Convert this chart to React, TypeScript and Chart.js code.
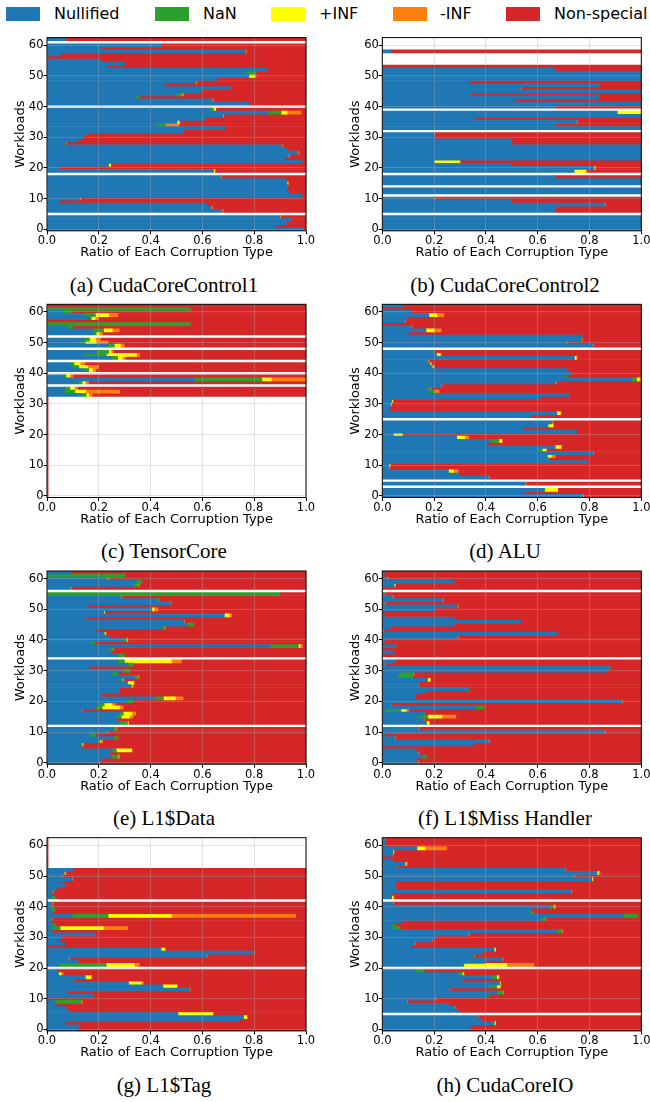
import React, { useEffect, useRef } from "react";
import { Chart, registerables } from "chart.js";

Chart.register(...registerables);
Chart.defaults.font.family = "'DejaVu Sans', sans-serif";
Chart.defaults.color = "#000";

const SERIES_NAMES = ["Nullified", "NaN", "+INF", "-INF", "Non-special"];
const SERIES_COLORS = ["#1f77b4", "#2ca02c", "#ffff00", "#ff7f0e", "#d62728"];
const X_TICKS = [0, 0.2, 0.4, 0.6, 0.8, 1.0];
const Y_TICKS = [0, 10, 20, 30, 40, 50, 60];
const X_TITLE = "Ratio of Each Corruption Type";
const Y_TITLE = "Workloads";

// ---------- (a) CudaCoreControl1 ----------
const A_NULL = [
  .99, .885, .923, .943, .898, 0, .676, .635, .618, .048,
  .126, .985, .937, .927, .929, .927, .924, .669, 0, .643,
  .048, .235, .985, .916, .933, .969, .927, .907, .071, .12,
  .139, .157, .528, .689, .422, .502, .611, .678, .853, .63,
  0, .783, .638, .344, .502, .597, .708, .453, .574, .656,
  .78, .766, .85, .23, .3, .206, 0, .054, .766, .212,
  .44, 0, .07];
const A_NAN = [
  0, 0, 0, 0, 0, 0, 0, 0, 0, 0,
  0, 0, 0, 0, 0, 0, 0, 0, 0, 0,
  0, .003, 0, 0, 0, 0, 0, 0, 0, 0,
  0, 0, 0, 0, .035, 0, 0, 0, .051, .013,
  0, 0, 0, .013, .017, 0, 0, 0, 0, 0,
  0, .038, 0, 0, 0, 0, 0, 0, 0, 0,
  0, 0, 0];
const A_PINF = [
  0, 0, 0, 0, 0, 0, 0, 0, 0, 0,
  0, 0, 0, 0, 0, .004, 0, 0, 0, .005,
  0, .008, 0, 0, 0, 0, 0, 0, 0, 0,
  0, 0, 0, 0, 0, .009, 0, 0, .023, .009,
  0, 0, 0, 0, 0, 0, 0, 0, 0, 0,
  .022, 0, 0, 0, 0, 0, 0, 0, 0, 0,
  0, 0, 0];
const A_NINF = [
  0, 0, 0, 0, .004, 0, .004, .004, 0, 0,
  .004, 0, 0, 0, 0, 0, 0, .004, 0, 0,
  0, 0, 0, 0, .004, .004, 0, .004, .004, 0,
  0, 0, 0, 0, .054, 0, 0, .004, .054, 0,
  0, 0, .004, 0, .008, 0, 0, 0, .004, 0,
  .005, 0, 0, 0, 0, 0, 0, 0, .004, 0,
  0, 0, 0];
const A_RED = [
  .01, .115, .077, .057, .098, 0, .32, .361, .382, .952,
  .87, .015, .063, .073, .071, .069, .076, .327, 0, .352,
  .952, .754, .015, .084, .063, .027, .073, .089, .925, .88,
  .861, .843, .472, .311, .489, .489, .389, .318, .019, .348,
  0, .217, .358, .643, .473, .403, .292, .547, .422, .344,
  .193, .196, .15, .77, .7, .794, 1, .946, .23, .788,
  .56, 0, .93];

// ---------- (b) CudaCoreControl2 ----------
const B_NULL = [
  1, 1, 1, 1, 1, 0, .668, .668, .858, .5,
  .2, 0, 1, 1, 0, 1, 1, .668, 0, .741,
  .818, .5, .2, 1, 1, 1, 1, 1, .5, .5,
  .2, .2, 0, 1, .668, .75, .356, 1, .907, 0,
  .668, 1, .51, .835, .335, 1, .533, .835, .335, 1,
  1, 1, .668, 0, 0, 0, 0, 0, .032, 0,
  0, 0, 0];
const B_NAN = [
  0, 0, 0, 0, 0, 0, 0, 0, 0, 0,
  0, 0, 0, 0, 0, 0, 0, 0, 0, 0,
  0, 0, 0, 0, 0, 0, 0, 0, 0, 0,
  0, 0, 0, 0, 0, 0, 0, 0, 0, 0,
  0, 0, 0, 0, 0, 0, 0, 0, 0, 0,
  0, 0, 0, 0, 0, 0, 0, 0, 0, 0,
  0, 0, 0];
const B_PINF = [
  0, 0, 0, 0, 0, 0, 0, 0, 0, 0,
  0, 0, 0, 0, 0, 0, 0, 0, 0, .046,
  .004, 0, .1, 0, 0, 0, 0, 0, 0, 0,
  0, 0, 0, 0, 0, 0, 0, 0, .093, 0,
  0, 0, 0, 0, 0, 0, 0, 0, 0, 0,
  0, 0, 0, 0, 0, 0, 0, 0, 0, 0,
  0, 0, 0];
const B_NINF = [
  0, 0, 0, 0, 0, 0, 0, 0, .003, 0,
  .003, 0, 0, 0, 0, 0, 0, 0, 0, 0,
  0, 0, 0, 0, 0, 0, 0, 0, 0, 0,
  0, .003, 0, 0, 0, .003, 0, 0, 0, 0,
  0, 0, 0, 0, 0, 0, .003, 0, 0, 0,
  0, 0, 0, 0, 0, 0, 0, 0, 0, 0,
  0, 0, 0];
const B_RED = [
  0, 0, 0, 0, 0, 0, .332, .332, .139, .5,
  .797, 0, 0, 0, 0, 0, 0, .332, 0, .213,
  .178, .5, .7, 0, 0, 0, 0, 0, .5, .5,
  .8, .797, 0, 0, .332, .247, .644, 0, 0, 0,
  .332, 0, .49, .165, .665, 0, .464, .165, .665, 0,
  0, 0, .332, 1, 0, 0, 0, 0, .968, 0,
  0, 0, 0];

// ---------- (c) TensorCore ----------
const C_NULL = [
  0, 0, 0, 0, 0, 0, 0, 0, 0, 0,
  0, 0, 0, 0, 0, 0, 0, 0, 0, 0,
  0, 0, 0, 0, 0, 0, 0, 0, 0, 0,
  0, 0, 0, .135, .066, .071, 0, .12, .569, .064,
  0, .144, .097, .09, 0, .249, .144, .19, 0, .234,
  .121, .142, 0, .18, .174, .075, 0, 0, .165, .142,
  .064, 0, 0];
const C_NAN = [
  0, 0, 0, 0, 0, 0, 0, 0, 0, 0,
  0, 0, 0, 0, 0, 0, 0, 0, 0, 0,
  0, 0, 0, 0, 0, 0, 0, 0, 0, 0,
  0, 0, 0, .017, .042, .017, 0, .015, .261, .01,
  0, .017, .026, .015, 0, .024, .085, .048, 0, .026,
  .027, .022, 0, .01, .045, .023, .553, 0, .006, .045,
  .026, .553, 0];
const C_PINF = [
  0, 0, 0, 0, 0, 0, 0, 0, 0, 0,
  0, 0, 0, 0, 0, 0, 0, 0, 0, 0,
  0, 0, 0, 0, 0, 0, 0, 0, 0, 0,
  0, 0, 0, .009, .042, .018, 0, .013, .036, .013,
  0, .015, .035, .023, 0, .018, .116, .009, 0, .023,
  .042, .023, 0, .012, .033, 0, 0, 0, .015, .051,
  0, 0, 0];
const C_NINF = [
  0, 0, 0, 0, 0, 0, 0, 0, 0, 0,
  0, 0, 0, 0, 0, 0, 0, 0, 0, 0,
  0, 0, 0, 0, 0, 0, 0, 0, 0, 0,
  0, 0, 0, .014, .131, .012, 0, .012, .131, .013,
  0, .012, .041, .019, 0, .012, .012, .008, 0, .015,
  .046, .019, 0, .012, .027, 0, 0, 0, .013, .035,
  0, 0, 0];
const C_RED = [
  .004, .004, .004, .004, .004, .004, .004, .004, .004, .004,
  .004, .004, .004, .004, .004, .004, .004, .004, .004, .004,
  .004, .004, .004, .004, .004, .004, .004, .004, .004, .004,
  .004, .004, .004, .825, .719, .882, 0, .84, .003, .9,
  0, .812, .801, .853, 0, .697, .643, .745, 0, .702,
  .764, .794, 0, .786, .721, .902, .447, 1, .801, .727,
  .91, .447, 1];

// ---------- (d) ALU ----------
const D_NULL = [
  .773, .548, .622, 0, .552, 0, .41, .3, .253, .023,
  .026, .794, .633, .637, .813, .599, .668, .403, .416, .287,
  .04, .751, .544, .64, .655, 0, .575, .674, .026, .031,
  .032, .036, .606, .719, .184, .171, .227, .668, .963, .702,
  .729, .713, .193, .184, .175, .742, .21, .197, 0, .812,
  .706, .767, .772, .1, .169, .111, 0, .088, .092, .18,
  .111, 0, .079];
const D_NAN = [
  0, 0, .005, 0, 0, 0, 0, 0, .003, 0,
  0, 0, .01, 0, 0, .018, 0, 0, .035, 0,
  .003, 0, 0, 0, 0, 0, 0, 0, 0, 0,
  0, 0, 0, .003, .017, .013, 0, 0, .019, .01,
  0, 0, 0, 0, 0, 0, 0, .004, 0, 0,
  .004, .003, 0, 0, 0, 0, 0, 0, 0, 0,
  0, 0, 0];
const D_PINF = [
  0, 0, .05, 0, 0, 0, 0, 0, .019, 0,
  .004, 0, 0, .015, 0, .015, .023, 0, .01, .032,
  .035, 0, 0, .018, 0, 0, 0, .013, 0, 0,
  .003, .003, 0, 0, 0, 0, 0, 0, .01, 0,
  0, 0, .004, .003, 0, .006, .013, 0, 0, 0,
  0, 0, 0, 0, .031, 0, 0, 0, 0, .031,
  0, 0, 0];
const D_NINF = [
  .004, 0, 0, 0, .004, 0, .003, 0, .018, .003,
  0, 0, 0, .015, .003, .003, 0, 0, .003, .015,
  0, 0, 0, .004, .003, 0, 0, .003, 0, 0,
  0, .003, 0, 0, .018, .004, .003, .004, .006, 0,
  0, 0, .003, .003, .005, .004, .004, 0, 0, .003,
  .004, .003, 0, 0, .027, .003, 0, .003, 0, .027,
  0, 0, 0];
const D_RED = [
  .223, .452, .323, 0, .444, 0, .587, .7, .707, .974,
  .97, .206, .357, .333, .184, .365, .309, .597, .536, .666,
  .922, .249, .456, .338, .342, 0, .425, .31, .974, .969,
  .965, .958, .394, .278, .781, .812, .77, .328, .002, .288,
  .271, .287, .8, .81, .82, .248, .773, .799, 0, .185,
  .286, .227, .228, .9, .773, .886, 1, .909, .908, .762,
  .889, 1, .921];

// ---------- (e) L1$Data ----------
const E_NULL = [
  .2, .212, .249, .242, .251, .135, .129, .203, .257, .165,
  .232, .257, 0, .279, .273, .268, .28, .133, .187, .199,
  .306, .418, .21, .279, .28, .326, .311, .28, .338, .249,
  .29, .165, .311, .273, 0, .273, .245, .242, .862, .167,
  .296, .242, .221, .187, .444, .54, .528, .148, .685, .219,
  .405, .152, .476, .425, .283, 0, 0, .09, .335, .345,
  .225, 0, .094];
const E_NAN = [
  0, 0, .026, 0, .017, 0, .006, 0, .017, .022,
  0, .01, 0, .032, 0, .019, .015, 0, .026, .022,
  .026, .032, 0, 0, 0, 0, 0, .013, .013, .026,
  .032, 0, .023, .026, 0, .026, 0, .013, .109, .019,
  .013, 0, 0, 0, .009, .028, 0, 0, 0, 0,
  0, 0, 0, .009, .003, .9, 0, 0, .017, .022,
  .01, .302, 0];
const E_PINF = [
  0, 0, .003, 0, .06, 0, .004, .003, 0, 0,
  0, 0, 0, .003, 0, .032, .033, 0, .068, .03,
  0, .045, 0, 0, 0, .003, .023, .003, 0, 0,
  0, 0, 0, .181, 0, 0, 0, 0, .006, 0,
  .003, 0, .004, 0, 0, 0, 0, 0, .019, .004,
  .008, 0, 0, 0, 0, 0, 0, 0, 0, 0,
  0, 0, 0];
const E_NINF = [
  .003, 0, 0, 0, 0, 0, 0, .008, 0, 0,
  .003, .003, 0, 0, 0, .013, .015, .003, .013, .013,
  0, .03, 0, 0, 0, .003, .003, 0, .004, 0,
  0, 0, 0, .039, 0, 0, 0, .003, .009, 0,
  0, 0, .003, 0, .004, 0, .003, 0, .01, 0,
  .015, 0, .003, 0, .003, 0, 0, .004, .005, 0,
  .005, 0, 0];
const E_RED = [
  .797, .788, .722, .758, .672, .865, .861, .786, .726, .813,
  .765, .73, 0, .686, .727, .668, .657, .864, .706, .736,
  .668, .475, .79, .721, .72, .668, .663, .704, .645, .725,
  .678, .835, .666, .481, 0, .701, .755, .742, .014, .814,
  .688, .758, .772, .813, .543, .432, .469, .852, .286, .777,
  .572, .848, .521, .566, .711, .1, 0, .906, .643, .633,
  .76, .698, .906];

// ---------- (f) L1$Miss Handler ----------
const F_NULL = [
  .137, .13, .156, .139, .13, 0, .354, .41, .049, .008,
  .858, .139, 0, .165, .159, .137, .162, .008, .362, .034,
  .925, .129, .129, .169, .332, .139, .14, .175, .059, .064,
  .87, .874, .01, .049, 0, 0, .045, 0, .049, 0,
  .01, .29, .678, 0, .03, .277, .536, .278, .008, 0,
  .204, .291, .008, .232, .039, .008, 0, .004, .046, .277,
  .018, .005, .008];
const F_NAN = [
  0, 0, .015, 0, 0, 0, 0, 0, 0, 0,
  0, 0, 0, .006, 0, .039, .004, .064, .031, 0,
  0, 0, 0, 0, .003, 0, 0, 0, .058, .055,
  0, .006, 0, 0, 0, 0, 0, 0, .004, 0,
  0, 0, 0, 0, 0, 0, 0, 0, 0, 0,
  0, 0, 0, 0, 0, 0, 0, 0, 0, 0,
  0, 0, 0];
const F_PINF = [
  0, 0, 0, 0, 0, 0, 0, 0, 0, 0,
  0, 0, 0, .009, 0, .054, 0, .019, 0, 0,
  0, 0, 0, 0, 0, 0, 0, .01, 0, 0,
  0, 0, 0, 0, 0, 0, 0, 0, 0, 0,
  0, 0, 0, 0, 0, 0, 0, 0, 0, 0,
  0, 0, 0, 0, 0, 0, 0, 0, .004, 0,
  0, 0, 0];
const F_NINF = [
  .003, 0, 0, .003, 0, 0, 0, .003, .003, 0,
  .003, .003, 0, .003, .003, .054, 0, .01, 0, .003,
  .003, 0, 0, 0, 0, .003, 0, 0, 0, .004,
  0, 0, .003, 0, 0, 0, 0, 0, 0, 0,
  0, .003, 0, .004, 0, 0, 0, 0, 0, 0,
  0, .003, .003, .003, .003, .003, 0, 0, 0, 0,
  .004, 0, 0];
const F_RED = [
  .86, .87, .829, .858, .87, 1, .646, .587, .948, .992,
  .139, .858, 0, .817, .838, .716, .834, .899, .607, .963,
  .072, .871, .871, .831, .665, .858, .86, .815, .883, .877,
  .13, .12, .987, .951, 0, 1, .955, 1, .947, 1,
  .99, .707, .322, .996, .97, .723, .464, .722, .992, 1,
  .796, .706, .989, .765, .958, .989, 0, .996, .95, .723,
  .978, .995, .992];

// ---------- (g) L1$Tag ----------
const G_NULL = [
  .12, .126, .071, .744, .759, .506, .084, .073, .03, .028,
  0, .18, .075, .55, .448, .315, .103, .148, .045, .039,
  0, .048, .12, .084, .615, .798, .438, .003, .067, .045,
  .054, .187, .019, .019, .019, .019, .017, .097, .019, .015,
  .019, .015, 0, .019, .015, .021, .042, .071, .058, .097,
  .055, .067, .1, 0, 0, 0, 0, 0, 0, 0,
  0, 0, 0];
const G_NAN = [
  0, 0, 0, 0, 0, 0, 0, 0, 0, .104,
  0, 0, .005, 0, 0, 0, 0, 0, 0, 0,
  0, .181, 0, 0, 0, 0, .003, 0, 0, 0,
  0, 0, 0, .032, .013, 0, 0, .139, 0, .017,
  0, .005, 0, .013, 0, 0, 0, 0, 0, 0,
  0, 0, 0, 0, 0, 0, 0, 0, 0, 0,
  0, 0, 0];
const G_PINF = [
  0, 0, 0, 0, .013, .135, 0, 0, 0, 0,
  0, 0, 0, 0, .054, .049, 0, .023, .009, 0,
  0, .108, 0, 0, 0, 0, .015, 0, 0, 0,
  0, 0, 0, .167, 0, 0, 0, .245, 0, 0,
  0, 0, 0, 0, 0, 0, 0, 0, 0, 0,
  0, .004, 0, 0, 0, 0, 0, 0, 0, 0,
  0, 0, 0];
const G_NINF = [
  0, 0, 0, 0, 0, 0, 0, 0, 0, .004,
  0, 0, 0, .003, 0, .008, 0, 0, .008, 0,
  0, .019, 0, .003, .003, .003, 0, 0, 0, 0,
  0, 0, 0, .094, 0, 0, .003, .479, 0, 0,
  .003, .003, 0, 0, 0, .003, 0, 0, 0, .003,
  .003, 0, 0, 0, 0, 0, 0, 0, 0, 0,
  0, 0, 0];
const G_RED = [
  .88, .874, .929, .256, .228, .359, .916, .927, .97, .864,
  1, .82, .92, .447, .498, .628, .897, .829, .938, .961,
  0, .644, .88, .913, .382, .199, .544, .997, .933, .955,
  .946, .813, .981, .688, .968, .981, .98, .04, .981, .968,
  .978, .977, 0, .968, .985, .976, .958, .929, .942, .9,
  .942, .929, .9, .004, .004, .004, .004, .004, .004, .004,
  .004, .004, .004];

// ---------- (h) CudaCoreIO ----------
const H_NULL = [
  .339, .343, .425, .381, .367, 0, .294, .281, .255, .095,
  .204, .407, .442, .258, .41, .454, .304, .423, .294, .126,
  0, .309, .398, .464, .353, .387, .432, .111, .124, .19,
  .207, .332, .674, .042, .034, .072, .613, .929, .567, .575,
  .648, .039, 0, .036, .032, .729, .053, .052, .049, .809,
  .737, .829, .706, .049, .088, .039, .003, .039, .041, .134,
  .014, .012, .008];
const H_NAN = [
  0, 0, .008, 0, 0, 0, 0, 0, 0, 0,
  0, .003, .023, 0, .032, 0, 0, .019, .015, .036,
  0, .006, 0, 0, 0, 0, 0, 0, 0, 0,
  0, 0, .019, .026, .015, 0, .015, .058, .018, 0,
  .015, 0, 0, 0, 0, 0, 0, 0, 0, 0,
  0, 0, 0, .006, 0, 0, 0, 0, 0, 0,
  0, 0, 0];
const H_PINF = [
  0, 0, .004, 0, 0, 0, 0, 0, 0, 0,
  0, 0, 0, 0, .013, .003, 0, .006, .004, 0,
  0, .165, 0, 0, 0, 0, .005, 0, 0, 0,
  0, 0, 0, 0, 0, 0, 0, 0, 0, 0,
  .004, 0, 0, .004, 0, 0, 0, 0, 0, .004,
  0, .006, 0, 0, .004, 0, 0, 0, .004, .031,
  0, 0, 0];
const H_NINF = [
  0, 0, 0, 0, .003, 0, 0, .003, 0, .003,
  .003, 0, .003, .003, 0, 0, 0, .003, .003, 0,
  0, .106, 0, .003, .003, 0, 0, 0, .003, .003,
  0, .003, .003, 0, 0, 0, .003, 0, 0, 0,
  0, .003, 0, .006, 0, .003, 0, 0, 0, 0,
  .003, .006, .003, 0, .004, 0, 0, .003, 0, .084,
  0, 0, .003];
const H_RED = [
  .661, .657, .563, .619, .63, 0, .706, .716, .745, .902,
  .793, .59, .532, .739, .545, .543, .696, .549, .684, .838,
  0, .414, .602, .533, .644, .613, .563, .889, .873, .807,
  .793, .665, .304, .932, .951, .928, .369, .013, .415, .425,
  .333, .958, 0, .954, .968, .268, .947, .948, .951, .187,
  .26, .159, .291, .945, .904, .961, .997, .958, .955, .751,
  .986, .988, .989];

const PANELS = [
  { caption: "(a) CudaCoreControl1", series: [A_NULL, A_NAN, A_PINF, A_NINF, A_RED] },
  { caption: "(b) CudaCoreControl2", series: [B_NULL, B_NAN, B_PINF, B_NINF, B_RED] },
  { caption: "(c) TensorCore", series: [C_NULL, C_NAN, C_PINF, C_NINF, C_RED] },
  { caption: "(d) ALU", series: [D_NULL, D_NAN, D_PINF, D_NINF, D_RED] },
  { caption: "(e) L1$Data", series: [E_NULL, E_NAN, E_PINF, E_NINF, E_RED] },
  { caption: "(f) L1$Miss Handler", series: [F_NULL, F_NAN, F_PINF, F_NINF, F_RED] },
  { caption: "(g) L1$Tag", series: [G_NULL, G_NAN, G_PINF, G_NINF, G_RED] },
  { caption: "(h) CudaCoreIO", series: [H_NULL, H_NAN, H_PINF, H_NINF, H_RED] },
];

// ---------- layout (pixels) ----------
const PLOT_LEFT = [47, 382.3];
const PLOT_TOP0 = 37.6;
const ROW_STEP = 266.7;
const PLOT_W = 259;
const PLOT_H = 193.2;
const Y_AXIS_W = 47;
const X_AXIS_H = 30;
const CAPTION_CX = [164, 505];
const CAPTION_TOP0 = 274.5;

const framePlugin = {
  id: "frame",
  afterDraw(chart: any) {
    const { ctx, chartArea: a } = chart;
    ctx.save();
    ctx.strokeStyle = "#000";
    ctx.lineWidth = 1;
    ctx.strokeRect(a.left, a.top, a.right - a.left, a.bottom - a.top);
    ctx.restore();
  },
};

function Panel({ panel, col, row }: any) {
  const ref = useRef<HTMLCanvasElement | null>(null);
  const plotLeft = PLOT_LEFT[col];
  const plotTop = PLOT_TOP0 + ROW_STEP * row;
  const canvasLeft = Math.floor(plotLeft - Y_AXIS_W);
  const padL = plotLeft - Y_AXIS_W - canvasLeft;
  const canvasTop = Math.floor(plotTop) - 10;
  const padT = plotTop - canvasTop;
  const canvasW = Math.ceil(padL + Y_AXIS_W + PLOT_W + 12);
  const padR = canvasW - padL - Y_AXIS_W - PLOT_W;
  const canvasH = Math.ceil(padT + PLOT_H + X_AXIS_H + 2);
  const padB = canvasH - padT - PLOT_H - X_AXIS_H;

  useEffect(() => {
    if (!ref.current) return;
    const chart = new Chart(ref.current, {
      type: "bar",
      data: {
        datasets: panel.series.map((arr: number[], k: number) => ({
          label: SERIES_NAMES[k],
          data: arr.map((v, i) => ({ x: v, y: i })),
          backgroundColor: (c: any) =>
            c.raw && c.raw.x > 0 ? SERIES_COLORS[k] : "rgba(0,0,0,0)",
          borderWidth: 0,
          barPercentage: 1,
          categoryPercentage: 1,
        })),
      },
      options: {
        indexAxis: "y",
        responsive: false,
        animation: false,
        events: [],
        layout: { padding: { left: padL, right: padR, top: padT, bottom: padB } },
        plugins: { legend: { display: false }, tooltip: { enabled: false } },
        scales: {
          x: {
            type: "linear",
            stacked: true,
            offset: false,
            min: 0,
            max: 1,
            afterBuildTicks: (s: any) => {
              s.ticks = X_TICKS.map((v) => ({ value: v }));
            },
            afterFit: (s: any) => {
              s.height = X_AXIS_H;
            },
            ticks: {
              autoSkip: false,
              maxRotation: 0,
              padding: 0,
              color: "#000",
              font: { size: 11.5 },
              callback: (v: any) => Number(v).toFixed(1),
            },
            grid: {
              offset: false,
              color: "rgba(176,176,176,0.35)",
              z: 1,
              tickColor: "#000",
              tickLength: 3.5,
            },
            border: { display: false },
            title: {
              display: true,
              text: X_TITLE,
              color: "#000",
              font: { size: 13 },
              padding: { top: 0, bottom: 0 },
            },
          },
          y: {
            type: "linear",
            stacked: true,
            offset: false,
            min: -0.5,
            max: 62.5,
            afterBuildTicks: (s: any) => {
              s.ticks = Y_TICKS.map((v) => ({ value: v }));
            },
            afterFit: (s: any) => {
              s.width = Y_AXIS_W;
            },
            ticks: {
              autoSkip: false,
              padding: 0,
              color: "#000",
              font: { size: 11.5 },
              callback: (v: any) => String(v),
            },
            grid: {
              offset: false,
              color: "rgba(176,176,176,0.35)",
              z: 1,
              tickColor: "#000",
              tickLength: 3.5,
            },
            border: { display: false },
            title: {
              display: true,
              text: Y_TITLE,
              color: "#000",
              font: { size: 13 },
              padding: { top: 12.5, bottom: 0 },
            },
          },
        },
      } as any,
      plugins: [framePlugin],
    });
    return () => chart.destroy();
  }, []);

  return (
    <canvas
      ref={ref}
      width={canvasW}
      height={canvasH}
      style={{
        position: "absolute",
        left: canvasLeft,
        top: canvasTop,
        width: canvasW,
        height: canvasH,
        display: "block",
      }}
    />
  );
}

const LEGEND_POS = [
  [6, 54],
  [155, 203],
  [271, 319],
  [393, 440],
  [506, 554],
];

export default function App() {
  return (
    <div
      style={{
        position: "absolute",
        left: 0,
        top: 0,
        width: 650,
        height: 1102,
        background: "#fff",
        overflow: "hidden",
      }}
    >
      {SERIES_NAMES.map((name, k) => (
        <React.Fragment key={name}>
          <div
            style={{
              position: "absolute",
              left: LEGEND_POS[k][0],
              top: 7,
              width: 34,
              height: 14,
              background: SERIES_COLORS[k],
            }}
          />
          <div
            style={{
              position: "absolute",
              left: LEGEND_POS[k][1],
              top: 6.3,
              height: 16,
              lineHeight: "16px",
              fontSize: 16,
              fontFamily: "'DejaVu Sans', sans-serif",
              color: "#000",
              whiteSpace: "nowrap",
            }}
          >
            {name}
          </div>
        </React.Fragment>
      ))}
      {PANELS.map((p, idx) => {
        const col = idx % 2;
        const row = Math.floor(idx / 2);
        return (
          <React.Fragment key={p.caption}>
            <Panel panel={p} col={col} row={row} />
            <div
              style={{
                position: "absolute",
                left: CAPTION_CX[col] - 160,
                width: 320,
                top: CAPTION_TOP0 + ROW_STEP * row,
                textAlign: "center",
                fontFamily: "'Liberation Serif', 'Times New Roman', serif",
                fontSize: 21,
                lineHeight: "21px",
                color: "#000",
                whiteSpace: "nowrap",
              }}
            >
              {p.caption}
            </div>
          </React.Fragment>
        );
      })}
    </div>
  );
}
